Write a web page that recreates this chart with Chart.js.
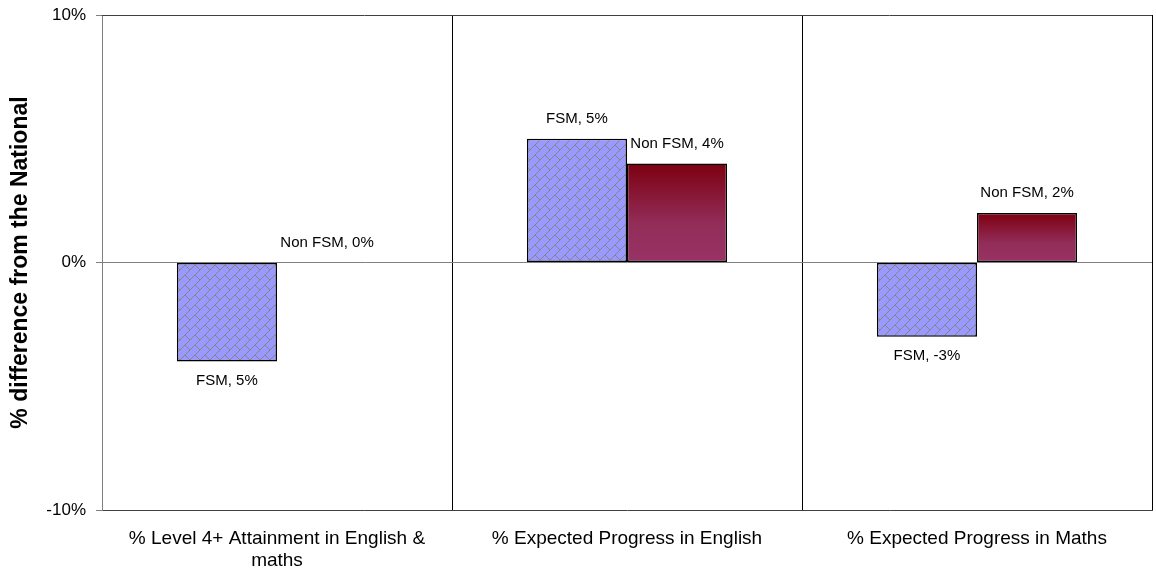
<!DOCTYPE html>
<html>
<head>
<meta charset="utf-8">
<script src="https://cdn.jsdelivr.net/npm/chart.js@4.4.0/dist/chart.umd.min.js"></script>
<style>
  body { margin: 0; background: #fff; }
  #wrap { width: 1156px; height: 574px; }
</style>
</head>
<body>
<div id="wrap"><canvas id="fsmChart" width="1156" height="574"></canvas></div>
<script>
// Dados do gráfico
const categories = [
  ['% Level 4+ Attainment in English &', 'maths'],
  '% Expected Progress in English',
  '% Expected Progress in Maths'
];
const fsmValues = [-4, 5, -3];
const nonFsmValues = [0, 4, 2];
const fsmLabels = ['FSM, 5%', 'FSM, 5%', 'FSM, -3%'];
const nonFsmLabels = ['Non FSM, 0%', 'Non FSM, 4%', 'Non FSM, 2%'];
const yTicks = [-10, 0, 10];

const FONT = "'Liberation Sans', Arial, sans-serif";

// Padrão de tijolos diagonais para a série FSM
function makeBrickPattern() {
  const size = 10;
  const c = document.createElement('canvas');
  c.width = size;
  c.height = size;
  const g = c.getContext('2d');
  g.fillStyle = '#9999ff';
  g.fillRect(0, 0, size, size);
  g.fillStyle = '#858585';
  for (let i = 0; i < size; i++) {
    g.fillRect(i, size - 1 - i, 1, 1);   // linha "/"
  }
  for (let i = 5; i < size; i++) {
    g.fillRect(i, i, 1, 1);              // junta "\"
  }
  return g.createPattern(c, 'repeat');
}
const brickPattern = makeBrickPattern();

// Gradiente vertical de cada barra Non FSM
function nonFsmGradient(ctx) {
  const chart = ctx.chart;
  if (!chart.chartArea) return '#8a1f3c';
  const y = chart.scales.y;
  const v = ctx.raw;
  const p0 = y.getPixelForValue(0);
  const p1 = y.getPixelForValue(v);
  const top = Math.min(p0, p1);
  const bottom = Math.max(p0, p1);
  if (bottom - top < 1) return '#993366';
  const grad = chart.ctx.createLinearGradient(0, top, 0, bottom);
  grad.addColorStop(0, '#7d0010');
  grad.addColorStop(0.6, '#922c58');
  grad.addColorStop(1, '#993366');
  return grad;
}

// Rótulos "Série, valor" sobre/sob cada barra
const barLabels = {
  id: 'barLabels',
  afterDatasetsDraw(chart) {
    const ctx = chart.ctx;
    const texts = [fsmLabels, nonFsmLabels];
    ctx.save();
    ctx.font = '15px ' + FONT;
    ctx.fillStyle = '#000';
    ctx.textAlign = 'center';
    ctx.textBaseline = 'middle';
    chart.data.datasets.forEach((ds, di) => {
      const meta = chart.getDatasetMeta(di);
      meta.data.forEach((bar, i) => {
        const v = ds.data[i];
        const y = v < 0 ? bar.y + 19 : bar.y - 20;
        ctx.fillText(texts[di][i], bar.x, y);
      });
    });
    ctx.restore();
  }
};

// Moldura superior da área do gráfico
const plotFrame = {
  id: 'plotFrame',
  afterDraw(chart) {
    const { ctx, chartArea } = chart;
    ctx.save();
    ctx.strokeStyle = '#404040';
    ctx.lineWidth = 1;
    ctx.beginPath();
    ctx.moveTo(chartArea.left, Math.round(chartArea.top) + 0.5);
    ctx.lineTo(chartArea.right, Math.round(chartArea.top) + 0.5);
    ctx.stroke();
    ctx.restore();
  }
};

new Chart(document.getElementById('fsmChart').getContext('2d'), {
  type: 'bar',
  data: {
    labels: categories,
    datasets: [
      {
        label: 'FSM',
        data: fsmValues,
        backgroundColor: brickPattern,
        borderColor: '#000',
        borderWidth: 1.5,
        borderSkipped: false
      },
      {
        label: 'Non FSM',
        data: nonFsmValues,
        backgroundColor: nonFsmGradient,
        borderColor: '#000',
        borderWidth: 1.5,
        borderSkipped: false
      }
    ]
  },
  options: {
    responsive: false,
    animation: false,
    events: [],
    layout: { padding: { top: 15, right: 4, left: 0, bottom: 0 } },
    datasets: {
      bar: { categoryPercentage: 0.572, barPercentage: 1 }
    },
    plugins: {
      legend: { display: false },
      tooltip: { enabled: false }
    },
    scales: {
      x: {
        afterFit(scale) { scale.height = 64; },
        grid: {
          offset: true,
          color: '#000',
          lineWidth: 1,
          drawTicks: false
        },
        border: { color: '#404040' },
        ticks: {
          color: '#000',
          padding: 17,
          maxRotation: 0,
          autoSkip: false,
          font: { family: FONT, size: 19 }
        }
      },
      y: {
        min: -10,
        max: 10,
        afterFit(scale) {
          scale.width = 102;
          scale.paddingTop = 0;
          scale.paddingBottom = 0;
        },
        afterBuildTicks(scale) {
          scale.ticks = yTicks.map(v => ({ value: v }));
        },
        grid: {
          color: ctx => (ctx.tick && ctx.tick.value === 0 ? '#808080' : 'rgba(0,0,0,0)'),
          tickColor: '#808080',
          tickLength: 6
        },
        border: { color: '#808080' },
        ticks: {
          color: '#000',
          padding: 10,
          font: { family: FONT, size: 17 },
          callback: v => v + '%'
        },
        title: {
          display: true,
          text: '% difference from the National',
          color: '#000',
          padding: { top: 7, bottom: 0 },
          font: { family: FONT, size: 23, weight: 'bold' }
        }
      }
    }
  },
  plugins: [barLabels, plotFrame]
});
</script>
</body>
</html>
